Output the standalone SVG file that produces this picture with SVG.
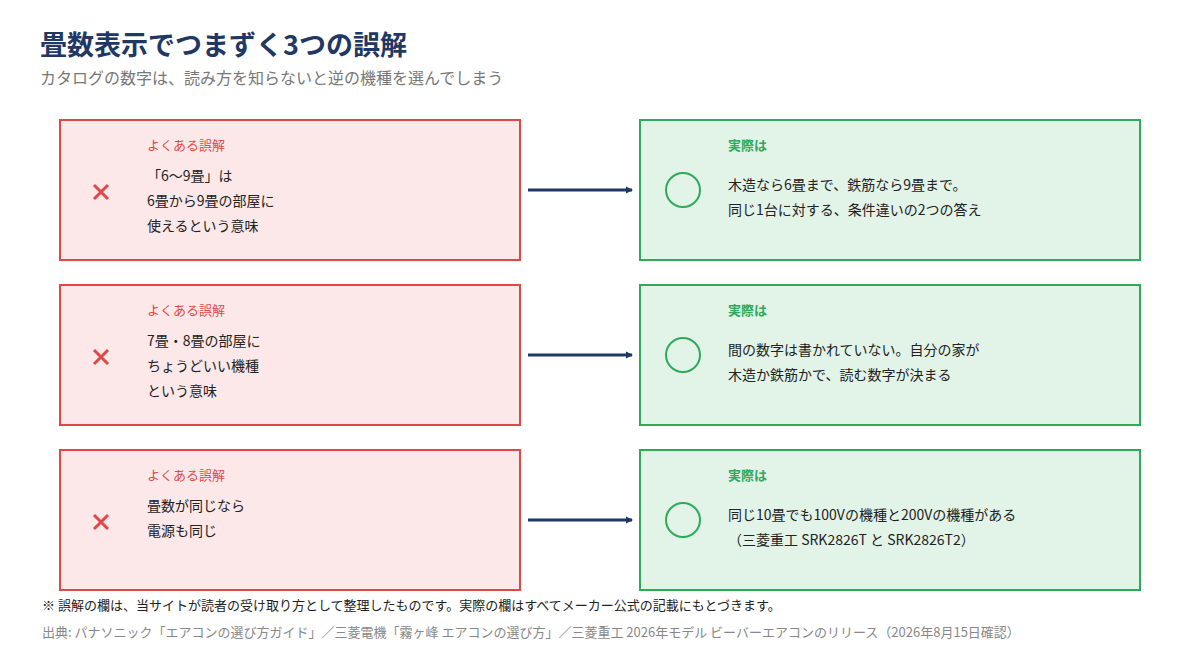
<svg xmlns="http://www.w3.org/2000/svg" width="1200" height="660" viewBox="0 0 1200 660">
<style>
text{font-family:"Noto Sans CJK JP","Noto Sans",sans-serif}
.bad{fill:#fce8e8;stroke:#e04848;stroke-width:2}
.good{fill:#e2f3e8;stroke:#2eaa5a;stroke-width:2}
.lr{fill:#e04848;font-size:13px}
.lg{fill:#2eaa5a;font-size:13px;font-weight:bold}
.b{fill:#222;font-size:14px}
.x{stroke:#e04848;stroke-width:3}
.o{fill:none;stroke:#2eaa5a;stroke-width:2}
.arr{stroke:#1f3864;stroke-width:3;marker-end:url(#ah)}
</style>
<defs><marker id="ah" markerWidth="8" markerHeight="8" refX="6" refY="4" orient="auto" markerUnits="userSpaceOnUse"><path d="M0,0.5 L7,4 L0,7.5z" fill="#1f3864"/></marker></defs>
<rect width="1200" height="660" fill="#fff"/>
<text x="40" y="55" font-size="27" font-weight="bold" fill="#1f3864">畳数表示でつまずく3つの誤解</text>
<text x="40" y="84" font-size="16" fill="#777">カタログの数字は、読み方を知らないと逆の機種を選んでしまう</text>
<g id="bad1"><rect class="bad" x="60" y="120" width="460" height="140"/><path class="x" d="M94,185 L108,199 M108,185 L94,199"/><text class="lr" x="147" y="150">よくある誤解</text><text class="b" x="147" y="181">「6〜9畳」は</text><text class="b" x="147" y="206">6畳から9畳の部屋に</text><text class="b" x="147" y="231">使えるという意味</text></g>
<g id="good1"><rect class="good" x="640" y="120" width="500" height="140"/><circle class="o" cx="683" cy="190" r="17"/><text class="lg" x="728" y="150">実際は</text><text class="b" x="728" y="190">木造なら6畳まで、鉄筋なら9畳まで。</text><text class="b" x="728" y="215">同じ1台に対する、条件違いの2つの答え</text></g>
<g id="bad2"><rect class="bad" x="60" y="285" width="460" height="140"/><path class="x" d="M94,350 L108,364 M108,350 L94,364"/><text class="lr" x="147" y="315">よくある誤解</text><text class="b" x="147" y="346">7畳・8畳の部屋に</text><text class="b" x="147" y="371">ちょうどいい機種</text><text class="b" x="147" y="396">という意味</text></g>
<g id="good2"><rect class="good" x="640" y="285" width="500" height="140"/><circle class="o" cx="683" cy="355" r="17"/><text class="lg" x="728" y="315">実際は</text><text class="b" x="728" y="355">間の数字は書かれていない。自分の家が</text><text class="b" x="728" y="380">木造か鉄筋かで、読む数字が決まる</text></g>
<g id="bad3"><rect class="bad" x="60" y="450" width="460" height="140"/><path class="x" d="M94,515 L108,529 M108,515 L94,529"/><text class="lr" x="147" y="480">よくある誤解</text><text class="b" x="147" y="511">畳数が同じなら</text><text class="b" x="147" y="536">電源も同じ</text></g>
<g id="good3"><rect class="good" x="640" y="450" width="500" height="140"/><circle class="o" cx="683" cy="520" r="17"/><text class="lg" x="728" y="480">実際は</text><text class="b" x="728" y="520">同じ10畳でも100Vの機種と200Vの機種がある</text><text class="b" x="728" y="545">（三菱重工 SRK2826T と SRK2826T2）</text></g>
<g id="connectors"><line class="arr" x1="528" y1="190" x2="632" y2="190"/><line class="arr" x1="528" y1="355" x2="632" y2="355"/><line class="arr" x1="528" y1="520" x2="632" y2="520"/></g>
<text x="42" y="610" font-size="13" fill="#222">※ 誤解の欄は、当サイトが読者の受け取り方として整理したものです。実際の欄はすべてメーカー公式の記載にもとづきます。</text>
<text x="42" y="637" font-size="13" fill="#888">出典: パナソニック「エアコンの選び方ガイド」／三菱電機「霧ヶ峰 エアコンの選び方」／三菱重工  2026年モデル ビーバーエアコンのリリース（2026年8月15日確認）</text>
</svg>
